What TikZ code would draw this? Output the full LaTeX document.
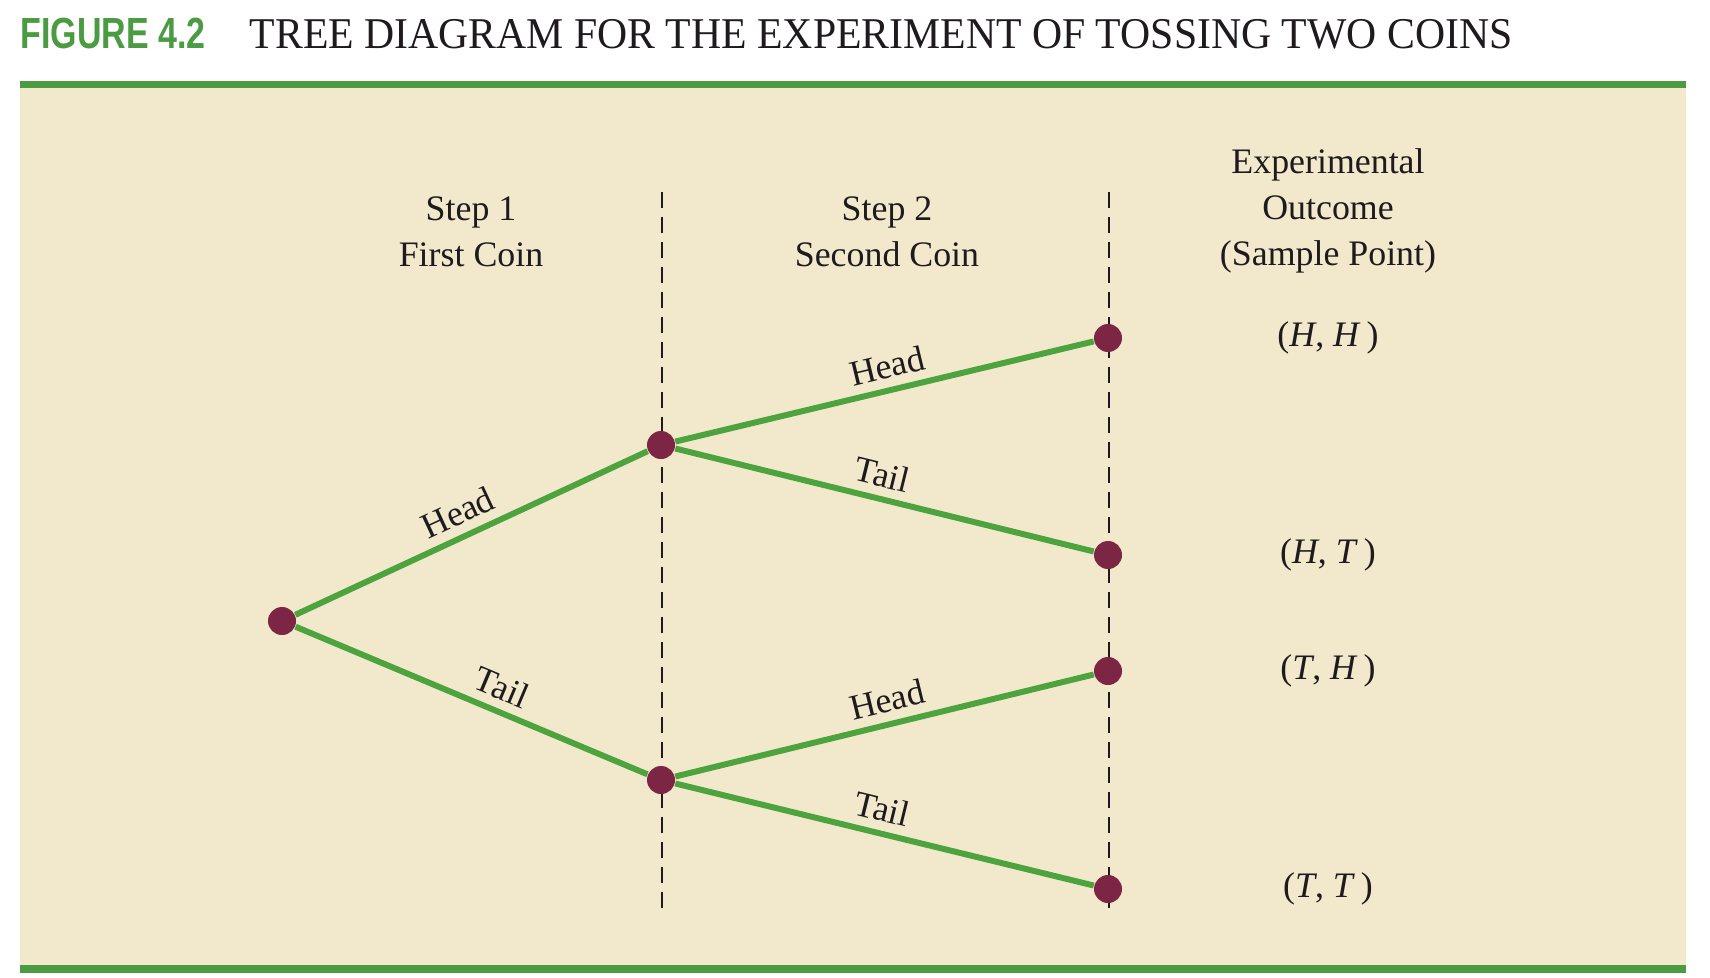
\documentclass[tikz,border=0pt]{standalone}
\usepackage{fontspec}
\setmainfont{Liberation Serif}
\newfontfamily\figfont[FakeStretch=0.78]{Liberation Sans}
\newfontfamily\titlefont[FakeStretch=0.95]{Liberation Serif}
\usetikzlibrary{positioning}
\definecolor{bargreen}{RGB}{74,155,66}
\definecolor{linegreen}{RGB}{77,163,62}
\definecolor{panelbeige}{RGB}{242,233,204}
\definecolor{dotred}{RGB}{125,37,68}
\definecolor{inkgray}{RGB}{30,26,30}

\begin{document}
\begin{tikzpicture}[x=0.1mm,y=-0.1mm,
  dot/.style={circle,fill=dotred,inner sep=0pt,minimum size=2.8mm},
  branch/.style={draw=linegreen,line width=1.7pt},
  guide/.style={draw=inkgray,line width=0.8pt,dash pattern=on 1.6mm off 0.9mm},
  lbl/.style={sloped,above,inner sep=2.5pt,font=\fontsize{10.2}{12}\selectfont,text=inkgray},
  head/.style={align=center,font=\fontsize{10.2}{13.1}\selectfont,text=inkgray},
  outcome/.style={font=\fontsize{10.2}{12}\selectfont,text=inkgray}
]
\useasboundingbox (0,0) rectangle (1710,978);
\fill[white] (0,0) rectangle (1710,978);
\fill[panelbeige] (20,88) rectangle (1686,965);
\fill[bargreen] (20,81) rectangle (1686,88);
\fill[bargreen] (20,965) rectangle (1686,973);

\node[anchor=base west,inner sep=0pt,text=bargreen,font={\figfont\bfseries\fontsize{12.4}{14}\selectfont}] (fig) at (20,49) {FIGURE 4.2};
\node[anchor=base west,inner sep=0pt,text=inkgray,font={\titlefont\fontsize{12.5}{14}\selectfont}] (title) at (249,49) {TREE DIAGRAM FOR THE EXPERIMENT OF TOSSING TWO COINS};

\node[head] (step1) at (471,232) {Step 1\\First Coin};
\node[head] (step2) at (887,232) {Step 2\\Second Coin};
\node[head] (outhead) at (1328,211) {Experimental\\Outcome\\(Sample Point)};

\coordinate (top1) at (662,192);
\coordinate (bot1) at (662,911);
\coordinate (top2) at (1109,192);
\coordinate (bot2) at (1109,911);
\draw[guide] (top1) -- (bot1);
\draw[guide] (top2) -- (bot2);

\node[dot] (root) at (282,621) {};
\node[dot] (h) at (661,445) {};
\node[dot] (t) at (661,780) {};
\node[dot] (hh) at (1108,338) {};
\node[dot] (ht) at (1108,555) {};
\node[dot] (th) at (1108,671) {};
\node[dot] (tt) at (1108,889) {};

\draw[branch] (root) -- node[lbl,pos=0.49] {Head} (h);
\draw[branch] (root) -- node[lbl,pos=0.56] {Tail} (t);
\draw[branch] (h) -- node[lbl,pos=0.52] {Head} (hh);
\draw[branch] (h) -- node[lbl,pos=0.48] {Tail} (ht);
\draw[branch] (t) -- node[lbl,pos=0.52] {Head} (th);
\draw[branch] (t) -- node[lbl,pos=0.48] {Tail} (tt);

\node[outcome,on grid,right=2.2cm of hh] (ohh) {(\textit{H}, \textit{H}\,)};
\node[outcome,on grid,right=2.2cm of ht] (oht) {(\textit{H}, \textit{T}\,)};
\node[outcome,on grid,right=2.2cm of th] (oth) {(\textit{T}, \textit{H}\,)};
\node[outcome,on grid,right=2.2cm of tt] (ott) {(\textit{T}, \textit{T}\,)};
\end{tikzpicture}
\end{document}
